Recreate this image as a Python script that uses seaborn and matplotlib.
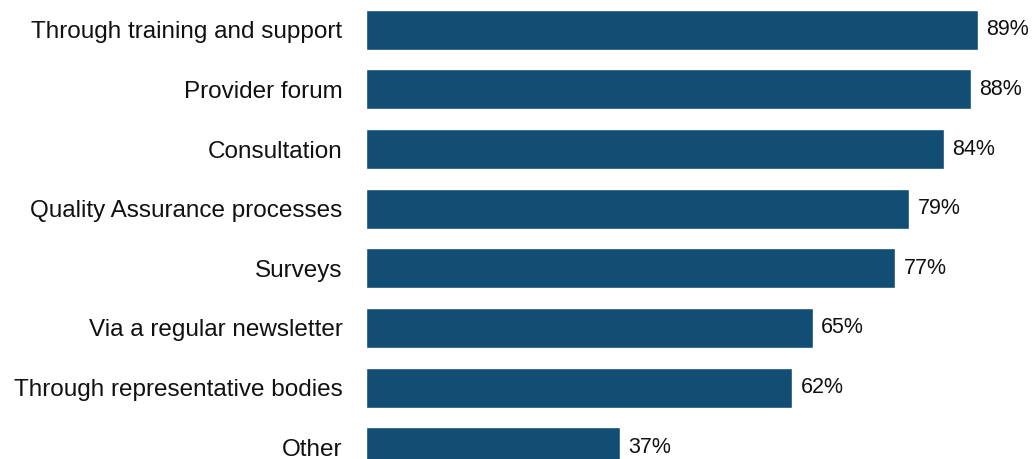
import matplotlib
matplotlib.use('Agg')
import matplotlib.pyplot as plt
import seaborn as sns
import pandas as pd

# Chart data
categories = [
    "Through training and support",
    "Provider forum",
    "Consultation",
    "Quality Assurance processes",
    "Surveys",
    "Via a regular newsletter",
    "Through representative bodies",
    "Other",
]
percentages = [89, 88, 84, 79, 77, 65, 62, 37]

BAR_COLOR = "#124E73"

sns.set_style("white")
plt.rcParams['font.family'] = ['Liberation Sans', 'DejaVu Sans']

df = pd.DataFrame({"category": categories, "pct": percentages})

fig = plt.figure(figsize=(10.34, 4.59), dpi=100)
# axes extends slightly below the figure so the last bar is cut off like the reference
ax = fig.add_axes([366 / 1034, (459 - 477) / 459, 667 / 1034, 477 / 459])

sns.barplot(data=df, x="pct", y="category", color=BAR_COLOR, width=0.67,
            saturation=1, ax=ax)

ax.set_xlim(0, 97)
ax.set_ylim(7.5, -0.5)
ax.set_xlabel("")
ax.set_ylabel("")
ax.set_xticks([])
for s in ax.spines.values():
    s.set_visible(False)
ax.tick_params(axis='y', length=0, pad=17, labelsize=17.5, labelcolor="#111111")

# Annotate bar values
for i, v in enumerate(percentages):
    ax.text(v + 1.2, i, f"{v}%", va='center', ha='left', fontsize=15.5, color="#111111")

fig.savefig("out.png", dpi=100)
plt.close(fig)
